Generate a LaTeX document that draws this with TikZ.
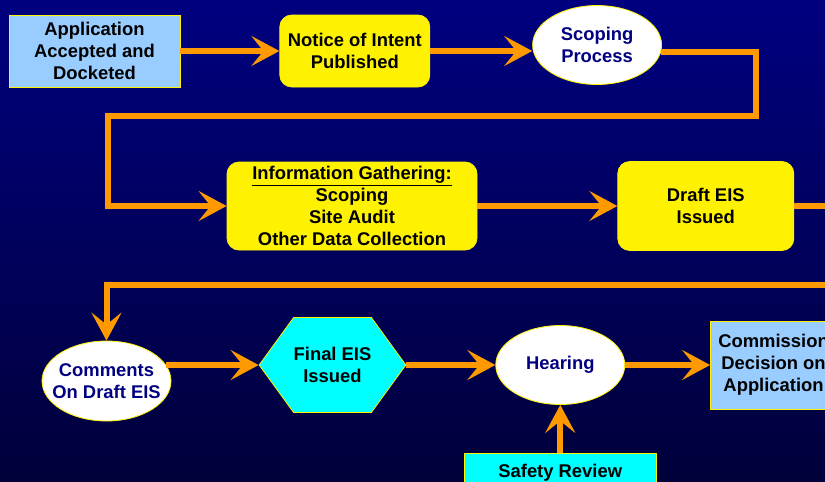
\documentclass[tikz,border=0pt]{standalone}
\usepackage{fontspec}
\setmainfont{Liberation Sans}
\usetikzlibrary{positioning, arrows.meta, shapes.geometric, shapes.symbols}
\definecolor{bgtop}{RGB}{0,0,128}
\definecolor{bgbottom}{RGB}{0,0,58}
\definecolor{docblue}{RGB}{153,204,255}
\definecolor{flowline}{RGB}{255,153,0}
\definecolor{inktext}{RGB}{0,0,128}
\definecolor{aqua}{RGB}{0,255,255}
\tikzset{
box/.style={font=\fontsize{18.4}{22}\selectfont\bfseries, align=center, inner sep=0, draw=yellow, line width=0.8pt},
docbox/.style={box, rectangle, fill=docblue}, actionbox/.style={box, rectangle, rounded corners=12pt, fill=yellow},
meeting/.style={box, ellipse, fill=white, text=inktext, inner xsep=-14pt, minimum width=129pt, minimum height=79pt},
issuebox/.style={box, signal, signal to=west and east, signal pointer angle=108, fill=aqua, minimum width=140pt, minimum height=95pt},
flow/.style={draw=flowline, line width=6pt, -{Stealth[length=28pt, width=30pt, inset=12pt]}}}

\begin{document}
\begin{tikzpicture}[x=1pt, y=-1pt]
\useasboundingbox (0,0) rectangle (825,482);
\clip (0,0) rectangle (825,482);
\shade [top color=bgtop, bottom color=bgbottom] (0,0) rectangle (825,482);
% top row
\node [docbox, minimum width=171pt, minimum height=72pt] (app) at (94.5,51) {Application\\Accepted and\\Docketed};
\node [actionbox, minimum width=150pt, minimum height=72pt, right=99pt of app] (notice) {Notice of Intent\\Published};
\node [meeting, right=102pt of notice, yshift=6pt] (scoping) {Scoping\\Process};
% middle row
\node [actionbox, minimum width=250pt, minimum height=88pt] (info) at (352,206) {\underline{Information Gathering:}\\Scoping\\Site Audit\\Other Data Collection};
\node [actionbox, minimum width=176pt, minimum height=89pt, right=140pt of info] (draft) {Draft EIS\\Issued};
% bottom row
\node [meeting, minimum height=80pt] (comments) at (106.5,381) {Comments\\On Draft EIS};
\node [issuebox] (final) at (332.5,365) {Final EIS\\Issued};
\node [meeting, right=89pt of final] (hearing) {Hearing};
\node [docbox, minimum width=126pt, minimum height=88pt, right=85pt of hearing] (decision) {Commission\\Decision on\\Application};
\node [box, rectangle, fill=aqua, minimum width=192pt, text height=18pt, text depth=10pt, inner ysep=6pt, below=48pt of hearing] (safety) {Safety Review};
% turns of the long connectors
\coordinate (upperturn) at (756,116);
\coordinate (upperback) at (108,116);
\coordinate (lowerturn) at (850,285);
\draw [flow] (app.east) -- (notice.west);
\draw [flow] (notice.east) -- (notice.east -| scoping.west);
\draw [flow] (scoping.-6) -| (upperturn) -- (upperback) |- (info.west);
\draw [flow] (info.east) -- (draft.west);
\draw [flow] (draft.east) -| (lowerturn) -| (comments.north);
\draw [flow] (comments.15) -- (comments.15 -| final.west);
\draw [flow] (final.east) -- (hearing.west);
\draw [flow] (hearing.east) -- (decision.west);
\draw [flow] (safety.north) -- (hearing.south);
\end{tikzpicture}
\end{document}
